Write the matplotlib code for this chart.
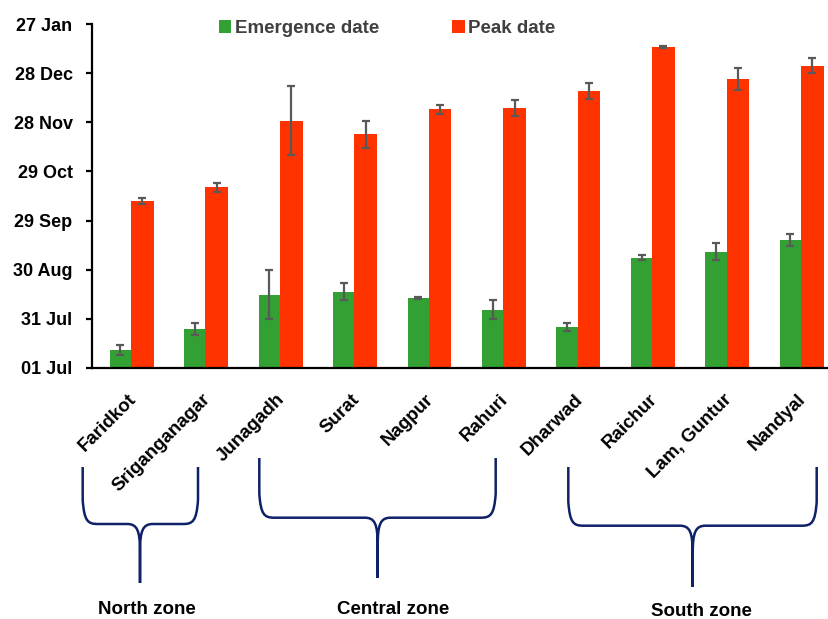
import matplotlib
matplotlib.use("Agg")
import matplotlib.pyplot as plt
from matplotlib import font_manager
from matplotlib.path import Path
from matplotlib.patches import PathPatch, Patch
import matplotlib.transforms as mtransforms
import numpy as np

# Locations and zones
locations = ["Faridkot", "Sriganganagar", "Junagadh", "Surat", "Nagpur",
             "Rahuri", "Dharwad", "Raichur", "Lam, Guntur", "Nandyal"]
zones = ["North zone", "Central zone", "South zone"]

# Days after 01 Jul (mean and standard error)
emergence = [10.8, 23.7, 44.5, 46.5, 42.8, 35.3, 25.1, 67.3, 70.9, 78.1]
emergence_err = [2.8, 3.4, 15.0, 5.2, 0.5, 5.8, 2.5, 1.5, 5.1, 3.9]
peak = [102.1, 110.3, 151.1, 142.7, 158.0, 159.0, 169.4, 196.1, 176.7, 184.7]
peak_err = [1.8, 2.8, 20.9, 8.2, 2.8, 4.8, 4.8, 0.5, 6.6, 4.7]

# Date axis
tick_days = [0, 30, 60, 90, 120, 150, 180, 210]
tick_labels = ["01 Jul", "31 Jul", "30 Aug", "29 Sep", "29 Oct",
               "28 Nov", "28 Dec", "27 Jan"]


def pick_family(*names):
    for name in names:
        try:
            font_manager.findfont(font_manager.FontProperties(family=name),
                                  fallback_to_default=False)
            return name
        except Exception:
            continue
    return "DejaVu Sans"


font = pick_family("Liberation Sans", "Arial")

GREEN = "#33a033"
RED = "#ff3300"
ERR = "#595959"
NAVY = "#0f2167"

W, H = 829, 619
fig = plt.figure(figsize=(W / 100, H / 100), dpi=100)


def fx(px):
    return px / W


def fy(py):
    return 1 - py / H


ax = fig.add_axes([fx(92), fy(367.7), fx(829 - 92), (367.7 - 24.3) / H])

x = np.arange(len(locations))
wg, wr = 0.285, 0.305
err_kw = dict(ecolor=ERR, elinewidth=1.6, capsize=2.8, capthick=1.6)
ax.bar(x - wg / 2, emergence, wg, color=GREEN, yerr=emergence_err,
       error_kw=err_kw, label="Emergence date", zorder=2)
ax.bar(x + wr / 2, peak, wr, color=RED, yerr=peak_err,
       error_kw=err_kw, label="Peak date", zorder=2)

ax.set_xlim(-0.524, 9.376)
ax.set_ylim(0, 210)
ax.set_yticks(tick_days)
ax.set_yticklabels(tick_labels, fontfamily=font, fontweight="bold",
                   fontsize=13)
ax.set_xticks([])
for s in ("top", "right"):
    ax.spines[s].set_visible(False)
for s in ("left", "bottom"):
    ax.spines[s].set_linewidth(1.6)
    ax.spines[s].set_color("black")
ax.tick_params(axis="y", direction="out", length=4, width=1.6, pad=10)

# Rotated location labels under each group
label_tf = mtransforms.blended_transform_factory(ax.transData, fig.transFigure)
for i, name in enumerate(locations):
    ax.text(i + 0.03, fy(397), name, rotation=45, rotation_mode="anchor",
            ha="right", va="center", fontsize=13.5, fontweight="bold",
            fontfamily=font, color="black", transform=label_tf)

# Legend
handles = [Patch(facecolor=GREEN), Patch(facecolor=RED)]
leg = fig.legend(handles, ["Emergence date", "Peak date"], ncol=2,
                 loc="upper left", bbox_to_anchor=(fx(219), fy(20)),
                 frameon=False, handlelength=0.65, handleheight=0.65,
                 handletextpad=0.2, columnspacing=3.9, borderpad=0,
                 borderaxespad=0,
                 prop=dict(family=font, weight="bold", size=13.5))
for t in leg.get_texts():
    t.set_color("#404040")


# Zone braces (pixel coordinates, origin at top-left)
def brace(xl, xr, xc, ytop, yh, ytip):
    verts, codes = [], []
    for side in (-1, 1):
        xe = xl if side < 0 else xr
        s = -side
        pts = [(xe, ytop), (xe, yh - 24),
               (xe + s * 1.5, yh - 3), (xe + s * 5, yh), (xe + s * 15, yh),
               (xc - s * 13, yh),
               (xc - s * 3, yh), (xc, yh + 6), (xc, yh + 28),
               (xc, ytip)]
        cds = [Path.MOVETO, Path.LINETO,
               Path.CURVE4, Path.CURVE4, Path.CURVE4,
               Path.LINETO,
               Path.CURVE4, Path.CURVE4, Path.CURVE4,
               Path.LINETO]
        verts += [(fx(a), fy(b)) for a, b in pts]
        codes += cds
    patch = PathPatch(Path(verts, codes), facecolor="none", edgecolor=NAVY,
                      lw=1.8, transform=fig.transFigure, capstyle="butt",
                      joinstyle="round")
    fig.add_artist(patch)


brace(82.7, 198, 140, 467, 524, 583)
brace(259.3, 495.7, 377.7, 458, 517.7, 578)
brace(568.3, 816.7, 692.7, 467, 525.7, 587)

for label, cx, cy in zip(zones, (147, 393, 701), (609, 609, 611)):
    fig.text(fx(cx), fy(cy), label, ha="center", va="center",
             fontsize=13.5, fontweight="bold", fontfamily=font,
             color="black")

fig.savefig("out.png", dpi=100)
